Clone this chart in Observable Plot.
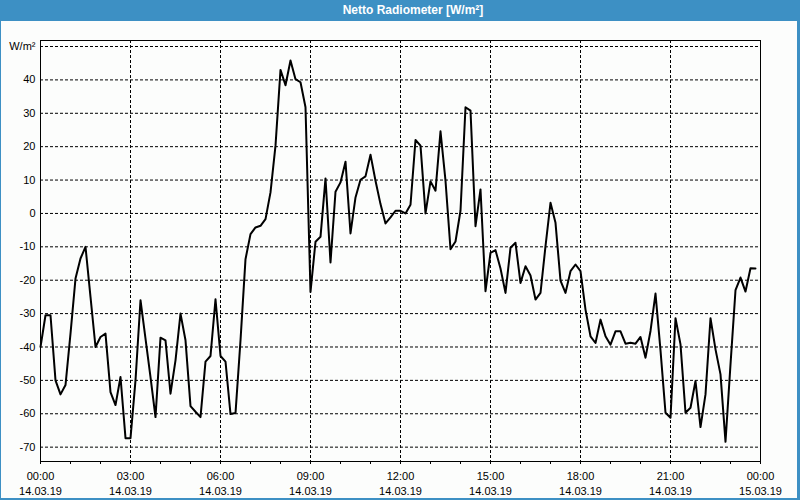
<!DOCTYPE html>
<html><head><meta charset="utf-8">
<script src="https://cdn.jsdelivr.net/npm/d3@7"></script>
<script src="https://cdn.jsdelivr.net/npm/@observablehq/plot@0.6"></script>
<style>
html,body{margin:0;padding:0;background:#fcfdfc;}
#wrap{position:relative;width:800px;height:500px;overflow:hidden;background:#fcfdfc;}
#title{position:absolute;left:26px;top:0;width:774px;height:21px;color:#fff;font:bold 12px "Liberation Sans",sans-serif;text-align:center;line-height:21px;z-index:2;}
#titlebg{position:absolute;left:0;top:0;width:800px;height:21px;background:#3d90c4;z-index:1;}
#chart{position:absolute;left:0;top:0;}
#border{position:absolute;left:0;top:0;width:800px;height:500px;box-sizing:border-box;border-left:1px solid #3d90c4;border-right:3px solid #3d90c4;border-bottom:2px solid #3d90c4;pointer-events:none;z-index:3}
</style>
</head><body>
<div id="wrap">
  <div id="titlebg"></div>
  <div id="title">Netto Radiometer [W/m²]</div>
  <div id="chart"></div>
  <div id="border"></div>
</div>
<script>
// Series start and sampling interval (10-minute values)
const startDate = [2019, 2, 14];
const stepMinutes = 10;
// Net radiation values, W/m², 14.03.19 00:00 – 23:50
const radiation = [
  -40, -30.5, -30.5, -50, -54.2, -51.4, -36, -19.5, -13.5, -10,
  -25, -40, -37, -36, -53.5, -57.4, -49, -67.3, -67.3, -50,
  -26, -37.5, -49, -61, -37.2, -38, -54, -44, -30, -38,
  -57.7, -59.4, -61, -44.4, -42.7, -25.7, -42.7, -44.4, -60.1, -59.8,
  -38, -13.7, -6.2, -4.2, -3.7, -1.7, 6.3, 20.3, 43, 38.4,
  45.8, 40.2, 39.3, 31.8, -23.5, -8.5, -7, 10.5, -14.7, 6.5,
  9.3, 15.5, -6, 4.8, 10.1, 11.1, 17.6, 9.8, 2.8, -3,
  -1.2, 0.8, 0.8, 0, 2.6, 22, 20.3, 0, 9.6, 6.8,
  24.6, 9.8, -10.7, -8.4, 0.8, 31.8, 30.8, -3.8, 7.2, -23.3,
  -11.8, -11, -16.5, -23.8, -10.3, -8.8, -20.8, -15.8, -18.6, -25.8,
  -23.8, -9.8, 3.2, -2.8, -20.1, -23.8, -17.3, -15.3, -17.3, -28.8,
  -36.8, -38.8, -31.8, -36.8, -39.3, -35.3, -35.3, -39, -38.7, -39,
  -37, -43.2, -35.2, -24, -41, -59.7, -61.2, -31.4, -39.2, -59.7,
  -58.2, -50.2, -64, -54.2, -31.4, -40.7, -48.2, -68.4, -45.2, -23,
  -19.2, -23.4, -16.4, -16.5
];
const yTicks = [-70, -60, -50, -40, -30, -20, -10, 0, 10, 20, 30, 40, 50];
const yUnitLabel = "W/m²";
const majorHours = [0, 3, 6, 9, 12, 15, 18, 21, 24];
const minorHours = d3.range(0, 25);

const t0 = Date.UTC(startDate[0], startDate[1], startDate[2]);
const hour = 3600000;
const data = radiation.map((v, i) => ({t: new Date(t0 + i * stepMinutes * 60000), v}));
const majorTicks = majorHours.map(h => new Date(t0 + h * hour));
const minorTicks = minorHours.map(h => new Date(t0 + h * hour));
const fmtTime = d3.utcFormat("%H:%M");
const fmtDate = d3.utcFormat("%d.%m.%y");

const chart = Plot.plot({
  width: 800,
  height: 500,
  marginTop: 40,
  marginBottom: 39,
  marginLeft: 40,
  marginRight: 40,
  style: {fontFamily: "'Liberation Sans', sans-serif", fontSize: "11px", background: "transparent", color: "#000"},
  x: {type: "utc", domain: [new Date(t0), new Date(t0 + 24 * hour)]},
  y: {domain: [-74.3, 51.8]},
  marks: [
    Plot.gridY(yTicks, {stroke: "#000", strokeOpacity: 1, strokeDasharray: "3,2"}),
    Plot.gridX(majorTicks, {stroke: "#000", strokeOpacity: 1, strokeDasharray: "3,2"}),
    Plot.frame({stroke: "#000"}),
    Plot.line(data, {x: "t", y: "v", stroke: "#000", strokeWidth: 2}),
    Plot.axisY(yTicks, {tickSize: 0, tickPadding: 5, label: null, tickFormat: d => d === 50 ? yUnitLabel : String(d)}),
    Plot.axisX(minorTicks, {tickSize: 3, tickPadding: 5, label: null, lineHeight: 1.36,
      tickFormat: d => d.getUTCHours() % 3 === 0 ? fmtTime(d) + "\n" + fmtDate(d) : ""})
  ]
});
document.getElementById("chart").appendChild(chart);
</script>
</body></html>
